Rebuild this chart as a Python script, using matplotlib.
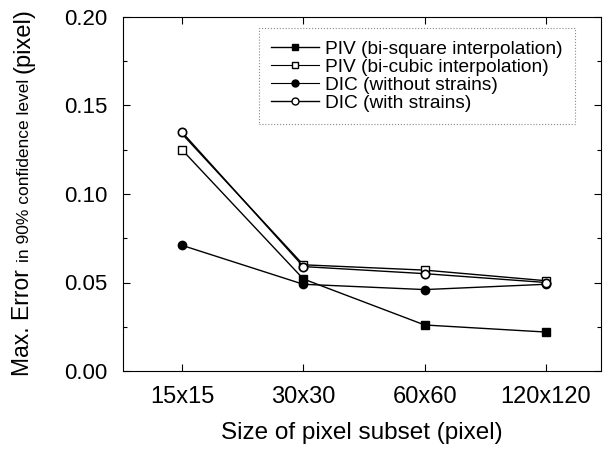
import matplotlib
matplotlib.use("Agg")
import matplotlib.pyplot as plt
from matplotlib.ticker import MultipleLocator
from matplotlib.lines import Line2D

plt.rcParams['font.family'] = ['Liberation Sans', 'DejaVu Sans']

categories = ["15x15", "30x30", "60x60", "120x120"]
piv_bisquare = [0.125, 0.052, 0.026, 0.022]
piv_bicubic = [0.134, 0.060, 0.057, 0.051]
dic_without = [0.071, 0.049, 0.046, 0.049]
dic_with = [0.135, 0.059, 0.055, 0.050]

fig = plt.figure(figsize=(6.03, 4.5), dpi=100)
ax = fig.add_axes([123/603, 1-371/450, 478/603, 354/450])

x = list(range(len(categories)))
lw = 1.0
ms = 6
ax.plot(x, piv_bisquare, '-', color='black', lw=lw, marker='s', ms=ms-0.5,
        mfc='black', mec='black', markevery=[1, 2, 3], zorder=2)
ax.plot(x, piv_bicubic, '-', color='black', lw=lw, marker='s', ms=ms-0.5,
        mfc='white', mec='black', markevery=[1, 2, 3], zorder=2)
ax.plot(x, dic_without, '-', color='black', lw=lw, marker='o', ms=ms,
        mfc='black', mec='black', zorder=3)
ax.plot(x, dic_with, '-', color='black', lw=lw, marker='o', ms=ms,
        mfc='white', mec='black', mew=1.2, zorder=4)
# first point of bi-square series appears as open square in the reference
ax.plot(x[:1], piv_bisquare[:1], ls='none', marker='s', ms=ms-0.5,
        mfc='white', mec='black', zorder=5)

handles = [
    Line2D([], [], color='black', lw=lw, marker='s', ms=ms-1, mfc='black', mec='black'),
    Line2D([], [], color='black', lw=0.8, marker='s', ms=ms-1, mfc='white', mec='black'),
    Line2D([], [], color='black', lw=0.8, marker='o', ms=ms-1, mfc='black', mec='black'),
    Line2D([], [], color='black', lw=lw, marker='o', ms=ms-1, mfc='white', mec='black'),
]
labels = ["PIV (bi-square interpolation)", "PIV (bi-cubic interpolation)",
          "DIC (without strains)", "DIC (with strains)"]
leg = ax.legend(handles, labels, loc='upper left',
                bbox_to_anchor=((259-123)/478, (371-28)/354),
                borderaxespad=0, fancybox=False, framealpha=1,
                edgecolor='#888888', fontsize=13.8, handlelength=2.5,
                handletextpad=0.3, labelspacing=0.03, borderpad=0.65)
leg.get_frame().set_linestyle(':')
leg.get_frame().set_linewidth(0.8)

ax.set_xlim(-0.486, 3.453)
ax.set_ylim(0.0, 0.20)
ax.set_xticks(x)
ax.set_xticklabels(categories)
ax.yaxis.set_major_locator(MultipleLocator(0.05))
ax.yaxis.set_minor_locator(MultipleLocator(0.025))
ax.yaxis.set_major_formatter(plt.FormatStrFormatter('%.2f'))
ax.tick_params(axis='both', which='both', direction='in', top=True, right=True,
               width=0.8)
ax.tick_params(axis='y', labelsize=16)
ax.tick_params(axis='x', labelsize=17)
ax.tick_params(axis='both', which='major', length=5, pad=11)
ax.tick_params(axis='both', which='minor', length=3)
for s in ax.spines.values():
    s.set_linewidth(0.8)

ax.set_xlabel("Size of pixel subset (pixel)", fontsize=17.5, labelpad=10)

# composite y label (three pieces, different sizes), chained bottom to top
fig.canvas.draw()
renderer = fig.canvas.get_renderer()
H = 450.0
x0 = 29 / 603
t1 = fig.text(x0, 1 - 376/H, "Max. Error", rotation=90, rotation_mode='anchor',
              ha='left', va='baseline', fontsize=16.5)
bb1 = t1.get_window_extent(renderer)
t2 = fig.text(x0, (bb1.y1 + 7) / H, "in 90% confidence level", rotation=90,
              rotation_mode='anchor', ha='left', va='baseline', fontsize=12.5)
bb2 = t2.get_window_extent(renderer)
t3 = fig.text(x0, (bb2.y1 + 6) / H, "(pixel)", rotation=90,
              rotation_mode='anchor', ha='left', va='baseline', fontsize=17)

fig.savefig("out.png", dpi=100)
